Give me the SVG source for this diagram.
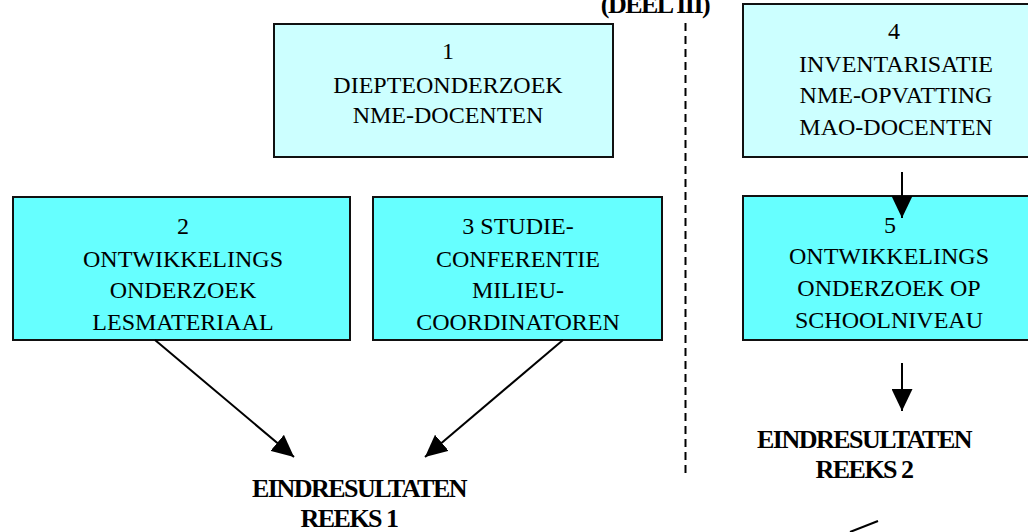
<svg xmlns="http://www.w3.org/2000/svg" width="1028" height="532" viewBox="0 0 1028 532">
<style>
.box{stroke:#111;stroke-width:2}
.light{fill:#CCFFFF}
.dark{fill:#66FFFF}
.t{font-family:"Liberation Serif","Times New Roman",serif;font-size:24px;fill:#000;text-anchor:middle}
.b{font-family:"Liberation Serif","Times New Roman",serif;font-size:26px;font-weight:bold;letter-spacing:-1.5px;fill:#000;text-anchor:middle}
.c{stroke:#000;stroke-width:2;fill:none}
</style>
<defs>
<marker id="ah" viewBox="0 0 22 21" refX="22" refY="10.5" markerWidth="22" markerHeight="21" markerUnits="userSpaceOnUse" orient="auto">
<path d="M0,0 L22,10.5 L0,21 Z" fill="#000"/>
</marker>
</defs>
<rect width="1028" height="532" fill="#fff"/>
<text class="b" x="655" y="13">(DEEL III)</text>
<line x1="685.5" y1="23" x2="685.5" y2="478" stroke="#000" stroke-width="2" stroke-dasharray="8,5"/>
<g id="node1">
<rect class="box light" x="274" y="24" width="339" height="133"/>
<text class="t" x="448" y="59">1</text>
<text class="t" x="448" y="93">DIEPTEONDERZOEK</text>
<text class="t" x="448" y="123">NME-DOCENTEN</text>
</g>
<g id="node4">
<rect class="box light" x="743" y="4" width="306" height="153"/>
<text class="t" x="894" y="39">4</text>
<text class="t" x="896" y="72">INVENTARISATIE</text>
<text class="t" x="896" y="103">NME-OPVATTING</text>
<text class="t" x="896" y="135">MAO-DOCENTEN</text>
</g>
<g id="node2">
<rect class="box dark" x="13" y="197" width="337" height="143"/>
<text class="t" x="183" y="234">2</text>
<text class="t" x="183" y="267">ONTWIKKELINGS</text>
<text class="t" x="183" y="298">ONDERZOEK</text>
<text class="t" x="183" y="330">LESMATERIAAL</text>
</g>
<g id="node3">
<rect class="box dark" x="373" y="197" width="289" height="143"/>
<text class="t" x="518" y="234">3 STUDIE-</text>
<text class="t" x="518" y="267">CONFERENTIE</text>
<text class="t" x="518" y="298">MILIEU-</text>
<text class="t" x="518" y="330">COORDINATOREN</text>
</g>
<g id="node5">
<rect class="box dark" x="743" y="196" width="306" height="144"/>
<text class="t" x="890" y="233">5</text>
<text class="t" x="889" y="264">ONTWIKKELINGS</text>
<text class="t" x="889" y="296">ONDERZOEK OP</text>
<text class="t" x="889" y="328">SCHOOLNIVEAU</text>
</g>
<g id="result1">
<text class="b" x="359" y="497">EINDRESULTATEN</text>
<text class="b" x="349" y="527">REEKS 1</text>
</g>
<g id="result2">
<text class="b" x="864" y="448">EINDRESULTATEN</text>
<text class="b" x="864" y="478">REEKS 2</text>
</g>
<g id="connectors">
<line class="c" x1="902" y1="172" x2="902" y2="218" marker-end="url(#ah)"/>
<line class="c" x1="902" y1="363" x2="902" y2="411" marker-end="url(#ah)"/>
<line class="c" x1="155" y1="340" x2="294" y2="457" marker-end="url(#ah)"/>
<line class="c" x1="563" y1="340" x2="425" y2="457" marker-end="url(#ah)"/>
<line class="c" x1="850" y1="532" x2="878" y2="521"/>
</g>
</svg>
